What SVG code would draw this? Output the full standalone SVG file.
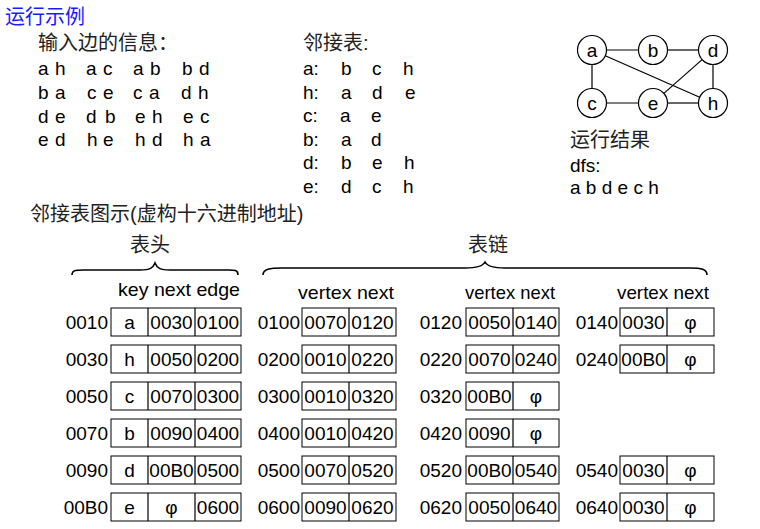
<svg xmlns="http://www.w3.org/2000/svg" width="760" height="529" viewBox="0 0 760 529">
<style>
.t{font-family:"Liberation Sans",Arial,"Noto Sans CJK SC",sans-serif;font-size:19px;fill:#000}
.c{font-family:"Liberation Sans",Arial,"Noto Sans CJK SC",sans-serif;font-size:20px;fill:#222}
.m{text-anchor:middle}
.e{text-anchor:end}
.box{fill:#fff;stroke:#000;stroke-width:1}
.ln{stroke:#000;stroke-width:1.2;fill:none}
.br{stroke:#000;stroke-width:1.6;fill:none}
.nd{fill:#fff;stroke:#000;stroke-width:1.2}
</style>
<rect width="760" height="529" fill="#fff"/>

<text class="c" x="5" y="24" style="fill:#1a1aff">运行示例</text>

<g id="edges-input">
<text class="c" x="38" y="50">输入边的信息：</text>
<text class="t" x="38 55 86 103 133 150 182 199" y="75">ahacabbd</text>
<text class="t" x="38 55 87 103 133 149 181 198" y="99">bacecadh</text>
<text class="t" x="38 55 86 105 135 152 183 200" y="123">dedbehec</text>
<text class="t" x="38 55 87 103 135 152 183 200" y="146">edhehdha</text>
</g>

<g id="adjacency-list">
<text class="c" x="303" y="50">邻接表:</text>
<text class="t" y="75"><tspan x="303">a:</tspan><tspan x="341">b</tspan><tspan x="372">c</tspan><tspan x="403">h</tspan></text>
<text class="t" y="99"><tspan x="303">h:</tspan><tspan x="341">a</tspan><tspan x="372">d</tspan><tspan x="405">e</tspan></text>
<text class="t" y="122"><tspan x="303">c:</tspan><tspan x="340">a</tspan><tspan x="371">e</tspan></text>
<text class="t" y="146"><tspan x="303">b:</tspan><tspan x="341">a</tspan><tspan x="371">d</tspan></text>
<text class="t" y="169"><tspan x="303">d:</tspan><tspan x="341">b</tspan><tspan x="372">e</tspan><tspan x="404">h</tspan></text>
<text class="t" y="193"><tspan x="303">e:</tspan><tspan x="341">d</tspan><tspan x="372">c</tspan><tspan x="403">h</tspan></text>
</g>

<g id="connectors">
<line class="ln" x1="606.5" y1="50" x2="638.5" y2="50"/>
<line class="ln" x1="667.5" y1="50" x2="698.5" y2="50"/>
<line class="ln" x1="592" y1="64.5" x2="592" y2="88.5"/>
<line class="ln" x1="606.5" y1="103" x2="638.5" y2="103"/>
<line class="ln" x1="667.5" y1="103" x2="698.5" y2="103"/>
<line class="ln" x1="713" y1="64.5" x2="713" y2="88.5"/>
<line class="ln" x1="605.3" y1="55.8" x2="699.7" y2="97.2"/>
<line class="ln" x1="702.1" y1="59.6" x2="663.9" y2="93.4"/>
</g>
<g id="node-a"><circle class="nd" cx="592" cy="50" r="14.5"/><text class="t m" x="592" y="57">a</text></g>
<g id="node-b"><circle class="nd" cx="653" cy="50" r="14.5"/><text class="t m" x="653" y="57">b</text></g>
<g id="node-d"><circle class="nd" cx="713" cy="50" r="14.5"/><text class="t m" x="713" y="57">d</text></g>
<g id="node-c"><circle class="nd" cx="592" cy="103" r="14.5"/><text class="t m" x="592" y="110">c</text></g>
<g id="node-e"><circle class="nd" cx="653" cy="103" r="14.5"/><text class="t m" x="653" y="110">e</text></g>
<g id="node-h"><circle class="nd" cx="713" cy="103" r="14.5"/><text class="t m" x="713" y="110">h</text></g>

<g id="result">
<text class="c" x="570" y="147">运行结果</text>
<text class="t" x="570" y="172">dfs:</text>
<text class="t" x="570" y="194">a b d e c h</text>
</g>

<text class="c" x="30" y="221">邻接表图示(虚构十六进制地址)</text>

<text class="c m" x="150" y="252">表头</text>
<text class="c m" x="488" y="252">表链</text>
<path class="br" d="M72,275 C72,269 78,270 90,270 L140,270 C150,270 153,268 155,263 C157,268 160,270 170,270 L222,270 C234,270 238,269 238,275"/>
<path class="br" d="M263,275 C263,269 270,268 282,268 L465,268 C478,268 483,266 485,262 C487,266 492,268 505,268 L690,268 C701,268 707,269 707,275"/>

<text class="t" x="118" y="296" textLength="122" lengthAdjust="spacingAndGlyphs">key next edge</text>
<text class="t" x="298" y="299" textLength="96" lengthAdjust="spacingAndGlyphs">vertex next</text>
<text class="t" x="465" y="299" textLength="90" lengthAdjust="spacingAndGlyphs">vertex next</text>
<text class="t" x="617" y="299" textLength="92" lengthAdjust="spacingAndGlyphs">vertex next</text>

<!-- head records -->
<g id="head-0010"><text class="t e" x="108" y="329">0010</text><rect class="box" x="111" y="308" width="130" height="28"/><line class="ln" x1="148" y1="308" x2="148" y2="336"/><line class="ln" x1="195" y1="308" x2="195" y2="336"/><text class="t m" x="129.5" y="329">a</text><text class="t m" x="171.5" y="329">0030</text><text class="t m" x="218" y="329">0100</text></g>
<g id="head-0030"><text class="t e" x="108" y="366">0030</text><rect class="box" x="111" y="345" width="130" height="28"/><line class="ln" x1="148" y1="345" x2="148" y2="373"/><line class="ln" x1="195" y1="345" x2="195" y2="373"/><text class="t m" x="129.5" y="366">h</text><text class="t m" x="171.5" y="366">0050</text><text class="t m" x="218" y="366">0200</text></g>
<g id="head-0050"><text class="t e" x="108" y="403">0050</text><rect class="box" x="111" y="382" width="130" height="28"/><line class="ln" x1="148" y1="382" x2="148" y2="410"/><line class="ln" x1="195" y1="382" x2="195" y2="410"/><text class="t m" x="129.5" y="403">c</text><text class="t m" x="171.5" y="403">0070</text><text class="t m" x="218" y="403">0300</text></g>
<g id="head-0070"><text class="t e" x="108" y="440">0070</text><rect class="box" x="111" y="419" width="130" height="28"/><line class="ln" x1="148" y1="419" x2="148" y2="447"/><line class="ln" x1="195" y1="419" x2="195" y2="447"/><text class="t m" x="129.5" y="440">b</text><text class="t m" x="171.5" y="440">0090</text><text class="t m" x="218" y="440">0400</text></g>
<g id="head-0090"><text class="t e" x="108" y="477">0090</text><rect class="box" x="111" y="456" width="130" height="28"/><line class="ln" x1="148" y1="456" x2="148" y2="484"/><line class="ln" x1="195" y1="456" x2="195" y2="484"/><text class="t m" x="129.5" y="477">d</text><text class="t m" x="171.5" y="477">00B0</text><text class="t m" x="218" y="477">0500</text></g>
<g id="head-00B0"><text class="t e" x="108" y="514">00B0</text><rect class="box" x="111" y="493" width="130" height="28"/><line class="ln" x1="148" y1="493" x2="148" y2="521"/><line class="ln" x1="195" y1="493" x2="195" y2="521"/><text class="t m" x="129.5" y="514">e</text><text class="t m" x="171.5" y="514">φ</text><text class="t m" x="218" y="514">0600</text></g>

<!-- chain column 1 -->
<g id="chain-0100"><text class="t e" x="300" y="329">0100</text><rect class="box" x="302" y="308" width="94" height="28"/><line class="ln" x1="349" y1="308" x2="349" y2="336"/><text class="t m" x="325.5" y="329">0070</text><text class="t m" x="372.5" y="329">0120</text></g>
<g id="chain-0200"><text class="t e" x="300" y="366">0200</text><rect class="box" x="302" y="345" width="94" height="28"/><line class="ln" x1="349" y1="345" x2="349" y2="373"/><text class="t m" x="325.5" y="366">0010</text><text class="t m" x="372.5" y="366">0220</text></g>
<g id="chain-0300"><text class="t e" x="300" y="403">0300</text><rect class="box" x="302" y="382" width="94" height="28"/><line class="ln" x1="349" y1="382" x2="349" y2="410"/><text class="t m" x="325.5" y="403">0010</text><text class="t m" x="372.5" y="403">0320</text></g>
<g id="chain-0400"><text class="t e" x="300" y="440">0400</text><rect class="box" x="302" y="419" width="94" height="28"/><line class="ln" x1="349" y1="419" x2="349" y2="447"/><text class="t m" x="325.5" y="440">0010</text><text class="t m" x="372.5" y="440">0420</text></g>
<g id="chain-0500"><text class="t e" x="300" y="477">0500</text><rect class="box" x="302" y="456" width="94" height="28"/><line class="ln" x1="349" y1="456" x2="349" y2="484"/><text class="t m" x="325.5" y="477">0070</text><text class="t m" x="372.5" y="477">0520</text></g>
<g id="chain-0600"><text class="t e" x="300" y="514">0600</text><rect class="box" x="302" y="493" width="94" height="28"/><line class="ln" x1="349" y1="493" x2="349" y2="521"/><text class="t m" x="325.5" y="514">0090</text><text class="t m" x="372.5" y="514">0620</text></g>

<!-- chain column 2 -->
<g id="chain-0120"><text class="t e" x="462" y="329">0120</text><rect class="box" x="466" y="308" width="93" height="28"/><line class="ln" x1="513" y1="308" x2="513" y2="336"/><text class="t m" x="489.5" y="329">0050</text><text class="t m" x="536" y="329">0140</text></g>
<g id="chain-0220"><text class="t e" x="462" y="366">0220</text><rect class="box" x="466" y="345" width="93" height="28"/><line class="ln" x1="513" y1="345" x2="513" y2="373"/><text class="t m" x="489.5" y="366">0070</text><text class="t m" x="536" y="366">0240</text></g>
<g id="chain-0320"><text class="t e" x="462" y="403">0320</text><rect class="box" x="466" y="382" width="93" height="28"/><line class="ln" x1="513" y1="382" x2="513" y2="410"/><text class="t m" x="489.5" y="403">00B0</text><text class="t m" x="536" y="403">φ</text></g>
<g id="chain-0420"><text class="t e" x="462" y="440">0420</text><rect class="box" x="466" y="419" width="93" height="28"/><line class="ln" x1="513" y1="419" x2="513" y2="447"/><text class="t m" x="489.5" y="440">0090</text><text class="t m" x="536" y="440">φ</text></g>
<g id="chain-0520"><text class="t e" x="462" y="477">0520</text><rect class="box" x="466" y="456" width="93" height="28"/><line class="ln" x1="513" y1="456" x2="513" y2="484"/><text class="t m" x="489.5" y="477">00B0</text><text class="t m" x="536" y="477">0540</text></g>
<g id="chain-0620"><text class="t e" x="462" y="514">0620</text><rect class="box" x="466" y="493" width="93" height="28"/><line class="ln" x1="513" y1="493" x2="513" y2="521"/><text class="t m" x="489.5" y="514">0050</text><text class="t m" x="536" y="514">0640</text></g>

<!-- chain column 3 -->
<g id="chain-0140"><text class="t e" x="618" y="329">0140</text><rect class="box" x="620" y="308" width="94" height="28"/><line class="ln" x1="667" y1="308" x2="667" y2="336"/><text class="t m" x="643.5" y="329">0030</text><text class="t m" x="690.5" y="329">φ</text></g>
<g id="chain-0240"><text class="t e" x="618" y="366">0240</text><rect class="box" x="620" y="345" width="94" height="28"/><line class="ln" x1="667" y1="345" x2="667" y2="373"/><text class="t m" x="643.5" y="366">00B0</text><text class="t m" x="690.5" y="366">φ</text></g>
<g id="chain-0540"><text class="t e" x="618" y="477">0540</text><rect class="box" x="620" y="456" width="94" height="28"/><line class="ln" x1="667" y1="456" x2="667" y2="484"/><text class="t m" x="643.5" y="477">0030</text><text class="t m" x="690.5" y="477">φ</text></g>
<g id="chain-0640"><text class="t e" x="618" y="514">0640</text><rect class="box" x="620" y="493" width="94" height="28"/><line class="ln" x1="667" y1="493" x2="667" y2="521"/><text class="t m" x="643.5" y="514">0030</text><text class="t m" x="690.5" y="514">φ</text></g>
</svg>
